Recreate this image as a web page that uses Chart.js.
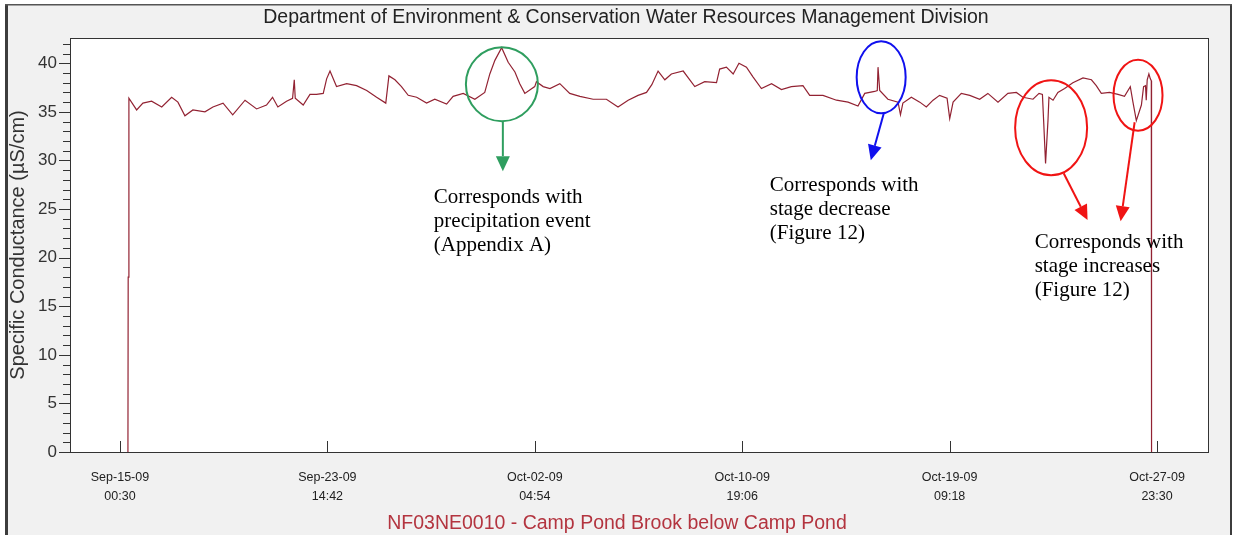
<!DOCTYPE html>
<html>
<head>
<meta charset="utf-8">
<script src="https://cdn.jsdelivr.net/npm/chart.js@4.4.0/dist/chart.umd.min.js"></script>
<style>
  html, body { margin: 0; padding: 0; background: #fff; }
</style>
</head>
<body>
<canvas id="chart-conductance" width="1235" height="535"></canvas>
<script>
// Specific conductance, days after Sep-15-09 00:30
var days = [
  0.33, 0.34, 0.37, 0.69, 0.95, 1.31, 1.73, 2.14, 2.40, 2.69,
  3.02, 3.52, 3.85, 4.27, 4.67, 5.18, 5.66, 6.07, 6.32, 6.54,
  6.90, 7.15, 7.22, 7.26, 7.59, 7.87, 8.14, 8.42, 8.56, 8.70,
  8.97, 9.39, 9.80, 10.22, 10.63, 11.01, 11.14, 11.39, 11.66, 11.94,
  12.29, 12.70, 13.04, 13.53, 13.80, 14.22, 14.70, 15.11, 15.32, 15.53,
  15.81, 16.08, 16.36, 16.56, 16.77, 17.18, 17.25, 17.53, 17.81, 18.22,
  18.63, 19.05, 19.60, 20.15, 20.63, 21.05, 21.46, 21.81, 22.03, 22.29,
  22.57, 22.84, 23.33, 23.81, 24.22, 24.71, 24.84, 25.12, 25.40, 25.64,
  25.95, 26.22, 26.57, 26.99, 27.40, 27.81, 28.29, 28.57, 29.12, 29.68,
  30.16, 30.57, 30.85, 31.26, 31.37, 31.40, 31.47, 31.81, 32.23, 32.33,
  32.43, 32.78, 33.13, 33.40, 33.68, 33.95, 34.26, 34.37, 34.51, 34.85,
  35.20, 35.61, 35.95, 36.37, 36.78, 37.13, 37.40, 37.82, 38.07, 38.21,
  38.26, 38.34, 38.44, 38.48, 38.65, 38.85, 39.13, 39.47, 39.89, 40.24,
  40.44, 40.65, 40.99, 41.34, 41.61, 41.85, 41.96, 42.10, 42.31, 42.40,
  42.48, 42.51, 42.55, 42.62, 42.68, 42.72, 42.73
];
var conductance = [
  0, 18.0, 36.4, 35.2, 35.9, 36.1, 35.5, 36.5, 36.0, 34.6,
  35.2, 35.0, 35.5, 35.9, 34.7, 36.2, 35.3, 35.7, 36.5, 35.5,
  36.1, 36.4, 38.3, 36.4, 35.7, 36.8, 36.8, 36.9, 38.4, 39.2,
  37.6, 37.9, 37.7, 37.2, 36.5, 35.9, 38.7, 38.3, 37.6, 36.7,
  36.5, 35.9, 36.3, 35.8, 36.6, 36.9, 36.3, 37.0, 38.9, 40.3,
  41.6, 40.1, 39.1, 37.9, 36.9, 37.6, 38.1, 37.6, 37.4, 37.9,
  36.9, 36.6, 36.3, 36.3, 35.5, 36.2, 36.7, 37.0, 37.8, 39.2,
  38.3, 38.9, 39.2, 37.6, 38.1, 38.0, 39.4, 39.6, 38.9, 40.0,
  39.6, 38.6, 37.4, 37.9, 37.3, 37.6, 37.7, 36.7, 36.7, 36.2,
  36.0, 35.6, 36.9, 37.1, 37.2, 39.6, 37.2, 36.3, 36.0, 34.7,
  35.9, 36.5, 36.0, 35.5, 36.2, 36.7, 36.4, 34.3, 36.0, 36.9,
  36.7, 36.3, 36.9, 36.0, 36.9, 37.0, 36.5, 36.3, 36.9, 36.8,
  34.1, 29.7, 34.1, 36.5, 36.2, 37.0, 37.4, 38.0, 38.5, 38.3,
  37.7, 36.9, 37.0, 36.8, 36.6, 37.6, 36.0, 34.1, 35.7, 37.6,
  37.7, 36.2, 38.3, 38.9, 38.4, 38.2, 0
];

// x axis ticks (every 8 d 14 h 12 min)
var tickDays = [0, 8.591667, 17.183333, 25.775, 34.366667, 42.958333];
var tickDates = ['Sep-15-09', 'Sep-23-09', 'Oct-02-09', 'Oct-10-09', 'Oct-19-09', 'Oct-27-09'];
var tickTimes = ['00:30', '14:42', '04:54', '19:06', '09:18', '23:30'];

var chartTitle = 'Department of Environment & Conservation Water Resources Management Division';
var stationName = 'NF03NE0010 - Camp Pond Brook below Camp Pond';

// hand drawn notes, anchored in data units (days, uS/cm)
var notes = [
  {
    color: '#2f9e5f',
    ellipses: [{ x: 15.82, y: 37.84, rx: 36, ry: 37 }],
    arrows: [{ from: [15.86, 34.0], to: [15.86, 28.9] }],
    text: { x: 13.0, y: 26.22, lines: ['Corresponds with', 'precipitation event', '(Appendix A)'] }
  },
  {
    color: '#1010ee',
    ellipses: [{ x: 31.53, y: 38.56, rx: 24.5, ry: 36 }],
    arrows: [{ from: [31.64, 34.86], to: [31.10, 30.03] }],
    text: { x: 26.92, y: 27.46, lines: ['Corresponds with', 'stage decrease', '(Figure 12)'] }
  },
  {
    color: '#f01414',
    ellipses: [{ x: 38.57, y: 33.37, rx: 36, ry: 47.5 }, { x: 42.17, y: 36.71, rx: 24.5, ry: 35.5 }],
    arrows: [{ from: [39.09, 28.69], to: [40.08, 23.86] }, { from: [42.03, 33.93], to: [41.45, 23.75] }],
    text: { x: 37.89, y: 21.55, lines: ['Corresponds with', 'stage increases', '(Figure 12)'] }
  }
];

var points = days.map(function(d, i) { return { x: d, y: conductance[i] }; });

function drawArrow(c, x1, y1, x2, y2, color) {
  var ang = Math.atan2(y2 - y1, x2 - x1), len = 15, half = 7;
  var bx = x2 - len * Math.cos(ang), by = y2 - len * Math.sin(ang);
  c.strokeStyle = color;
  c.fillStyle = color;
  c.lineWidth = 2;
  c.beginPath();
  c.moveTo(x1, y1);
  c.lineTo(bx, by);
  c.stroke();
  c.beginPath();
  c.moveTo(x2, y2);
  c.lineTo(bx + half * Math.sin(ang), by - half * Math.cos(ang));
  c.lineTo(bx - half * Math.sin(ang), by + half * Math.cos(ang));
  c.closePath();
  c.fill();
}

var chartDecor = {
  id: 'chartDecor',
  beforeDraw: function(chart) {
    var c = chart.ctx, a = chart.chartArea;
    c.save();
    c.fillStyle = '#ffffff';
    c.fillRect(0, 0, chart.width, chart.height);
    c.fillStyle = '#f1f1f1';
    c.fillRect(6, 5, 1226, chart.height - 5);
    c.fillStyle = '#ffffff';
    c.fillRect(a.left, a.top, a.right - a.left, a.bottom - a.top);
    c.restore();
  },
  afterDraw: function(chart) {
    var c = chart.ctx, a = chart.chartArea;
    var xs = chart.scales.x, ys = chart.scales.y;
    c.save();

    // outer frame
    c.fillStyle = '#3c3c3c';
    c.fillRect(5, 5, 3, chart.height - 5);
    c.fillRect(1230, 5, 2, chart.height - 5);
    c.fillStyle = '#555';
    c.fillRect(5, 4, 1227, 1.5);

    // plot border
    c.strokeStyle = '#333';
    c.lineWidth = 1;
    c.strokeRect(a.left + 0.5, a.top + 0.5, a.right - a.left - 1, a.bottom - a.top);

    // y tick marks, minor every 1, major every 5
    c.beginPath();
    for (var v = 0; v <= Math.floor(ys.max); v++) {
      var py = Math.round(ys.getPixelForValue(v)) + 0.5;
      c.moveTo(a.left - (v % 5 === 0 ? 11 : 7), py);
      c.lineTo(a.left, py);
    }
    // x tick marks, pointing into the plot
    tickDays.forEach(function(d) {
      var px = Math.round(xs.getPixelForValue(d)) + 0.5;
      c.moveTo(px, a.bottom);
      c.lineTo(px, a.bottom - 11);
    });
    c.stroke();

    // titles
    c.textAlign = 'center';
    c.textBaseline = 'middle';
    c.fillStyle = '#222';
    c.font = '19.5px "Liberation Sans", Arial, sans-serif';
    c.fillText(chartTitle, 626, 18);
    c.fillStyle = '#b3343f';
    c.font = '19.5px "Liberation Sans", Arial, sans-serif';
    c.fillText(stationName, 617, 524);

    // notes
    notes.forEach(function(n) {
      c.strokeStyle = n.color;
      c.lineWidth = 2;
      n.ellipses.forEach(function(e) {
        c.beginPath();
        c.ellipse(xs.getPixelForValue(e.x), ys.getPixelForValue(e.y), e.rx, e.ry, 0, 0, Math.PI * 2);
        c.stroke();
      });
      n.arrows.forEach(function(ar) {
        drawArrow(c, xs.getPixelForValue(ar.from[0]), ys.getPixelForValue(ar.from[1]),
          xs.getPixelForValue(ar.to[0]), ys.getPixelForValue(ar.to[1]), n.color);
      });
      c.fillStyle = '#000';
      c.textAlign = 'left';
      c.font = '21px "Liberation Serif", "Times New Roman", serif';
      var tx = xs.getPixelForValue(n.text.x), ty = ys.getPixelForValue(n.text.y);
      n.text.lines.forEach(function(line, i) {
        c.fillText(line, tx, ty + i * 24);
      });
    });
    c.restore();
  }
};

var conductanceChart = new Chart(document.getElementById('chart-conductance').getContext('2d'), {
  type: 'scatter',
  data: {
    datasets: [{
      label: 'Specific Conductance',
      data: points,
      showLine: true,
      borderColor: '#922232',
      borderWidth: 1.2,
      pointRadius: 0,
      tension: 0
    }]
  },
  options: {
    responsive: false,
    animation: false,
    devicePixelRatio: 1,
    layout: { padding: { top: 38, right: 26, left: 0, bottom: 0 } },
    plugins: {
      legend: { display: false },
      tooltip: { enabled: false }
    },
    scales: {
      x: {
        type: 'linear',
        min: -2.07,
        max: 45.11,
        afterFit: function(scale) { scale.height = 83; },
        afterBuildTicks: function(scale) {
          scale.ticks = tickDays.map(function(d) { return { value: d }; });
        },
        grid: { display: false, drawTicks: false },
        border: { display: false },
        ticks: {
          autoSkip: false,
          maxRotation: 0,
          padding: 16,
          color: '#222',
          font: { family: '"Liberation Sans", Arial, sans-serif', size: 12.5, lineHeight: 1.5 },
          callback: function(value) {
            var i = tickDays.indexOf(value);
            return i < 0 ? '' : [tickDates[i], tickTimes[i]];
          }
        }
      },
      y: {
        min: 0,
        max: 42.6,
        afterFit: function(scale) { scale.width = 70; },
        grid: { display: false, drawTicks: false },
        border: { display: false },
        ticks: {
          stepSize: 5,
          includeBounds: false,
          padding: 13,
          color: '#333',
          font: { family: '"Liberation Sans", Arial, sans-serif', size: 17 }
        },
        title: {
          display: true,
          text: 'Specific Conductance (µS/cm)',
          color: '#333',
          font: { family: '"Liberation Sans", Arial, sans-serif', size: 20, lineHeight: 1.2 },
          padding: { top: 6, bottom: 0 }
        }
      }
    }
  },
  plugins: [chartDecor]
});
</script>
</body>
</html>
